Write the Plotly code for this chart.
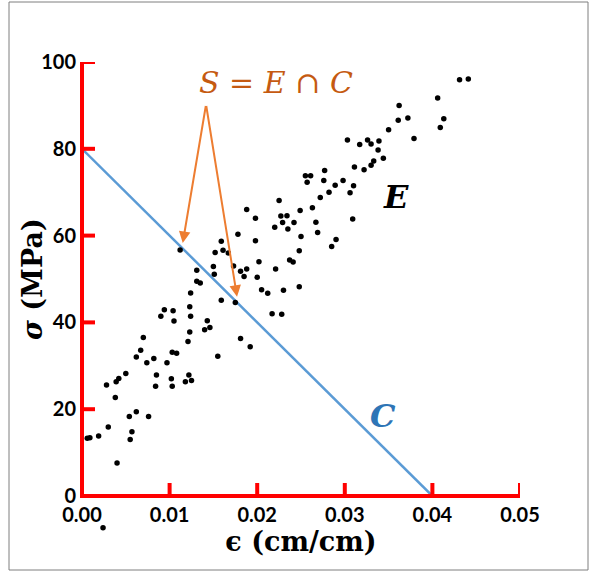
import plotly.graph_objects as go

# Scatter data E: strain (cm/cm) and stress (MPa)
eps = [0.0006, 0.0009, 0.0019, 0.0028, 0.0030, 0.0038, 0.0039, 0.0042, 0.0040, 0.0050,
       0.0054, 0.0055, 0.0057, 0.0062, 0.0062, 0.0067, 0.0070, 0.0074, 0.0076, 0.0082,
       0.0085, 0.0084, 0.0090, 0.0094, 0.0097, 0.0102, 0.0103, 0.0103, 0.0104, 0.0105,
       0.0108, 0.0112, 0.0118, 0.0121, 0.0122, 0.0123, 0.0123, 0.0124, 0.0125, 0.0124,
       0.0131, 0.0131, 0.0135, 0.0140, 0.0143, 0.0146, 0.0150, 0.0151, 0.0152, 0.0155,
       0.0159, 0.0159, 0.0161, 0.0167, 0.0173, 0.0175, 0.0178, 0.0181, 0.0181, 0.0185,
       0.0188, 0.0188, 0.0192, 0.0198, 0.0198, 0.0200, 0.0202, 0.0205, 0.0212, 0.0217,
       0.0220, 0.0221, 0.0225, 0.0227, 0.0228, 0.0229, 0.0230, 0.0234, 0.0235, 0.0237,
       0.0241, 0.0242, 0.0248, 0.0248, 0.0249, 0.0250, 0.0255, 0.0257, 0.0261, 0.0263,
       0.0267, 0.0269, 0.0272, 0.0276, 0.0277, 0.0282, 0.0285, 0.0289, 0.0290, 0.0298,
       0.0303, 0.0306, 0.0309, 0.0310, 0.0311, 0.0317, 0.0322, 0.0326, 0.0330, 0.0330,
       0.0333, 0.0338, 0.0339, 0.0344, 0.0350, 0.0361, 0.0362, 0.0372, 0.0379, 0.0406,
       0.0409, 0.0413, 0.0431, 0.0441]
sigma = [13.3, 13.4, 13.8, 25.6, 15.9, 22.7, 26.3, 27.1, 7.6, 28.2,
         18.3, 13.0, 14.8, 19.4, 32.0, 33.6, 36.5, 30.7, 18.3, 31.7,
         27.9, 25.3, 41.4, 42.9, 30.7, 27.0, 25.3, 33.1, 42.7, 40.3,
         32.9, 56.7, 26.3, 35.6, 27.9, 37.8, 43.6, 41.4, 26.6, 46.8,
         52.0, 49.5, 49.1, 38.3, 40.4, 38.8, 52.9, 51.1, 56.1, 32.2,
         45.1, 58.7, 56.6, 56.0, 53.0, 44.6, 60.3, 36.3, 51.8, 50.6,
         66.0, 52.3, 34.4, 64.0, 58.8, 50.4, 54.0, 47.5, 46.7, 42.0,
         61.9, 52.3, 68.1, 64.5, 41.9, 63.0, 47.4, 64.6, 61.5, 54.4,
         53.9, 63.0, 48.2, 56.5, 65.8, 59.8, 73.8, 72.3, 73.8, 66.4,
         63.1, 60.7, 68.8, 72.7, 75.0, 70.0, 57.5, 71.6, 59.1, 72.7,
         82.0, 69.9, 63.8, 71.5, 75.8, 81.0, 75.2, 82.0, 76.2, 81.1,
         77.2, 79.7, 81.8, 77.8, 84.4, 86.6, 90.0, 87.1, 82.4, 91.7,
         84.9, 86.9, 95.9, 96.1]

# One data point lies below the axis (negative stress)
outlier_eps = [0.0024]
outlier_sigma = [-7.3]

# Constraint line C
line_eps = [0.0, 0.04]
line_sigma = [80, 0]

x_ticks = [0.00, 0.01, 0.02, 0.03, 0.04, 0.05]
x_tick_labels = ["0.00", "0.01", "0.02", "0.03", "0.04", "0.05"]
y_ticks = [0, 20, 40, 60, 80, 100]

# Arrow geometry (apex and tips) in data units
arrow_apex = (0.01416, 90.2)
arrow_tips = [(0.0115, 58.3), (0.0177, 45.9)]

# layout geometry (pixels)
W, H = 589, 572
ML, MR, MT, MB = 82, 69, 62, 32
pw = W - ML - MR
plot_h = H - MT - MB            # 478
main_h = 434                    # height of the 0..100 axis
dom_bottom = (plot_h - main_h) / plot_h
px_per_unit = main_h / 100.0
y2_bottom = -(plot_h - main_h) / px_per_unit
TICK_LEN = 13
AX_W = 4
AX_COLOR = "red"   # diagnostic colour

fig = go.Figure()
fig.add_trace(go.Scatter(x=line_eps, y=line_sigma, mode="lines",
                         line=dict(color="#5B9BD5", width=2.5),
                         hoverinfo="skip", showlegend=False))
fig.add_trace(go.Scatter(x=eps, y=sigma, mode="markers",
                         marker=dict(color="black", size=5.5), showlegend=False))
fig.add_trace(go.Scatter(x=outlier_eps, y=outlier_sigma, mode="markers", yaxis="y2",
                         marker=dict(color="black", size=5.5), showlegend=False))

for tx, ty in arrow_tips:
    fig.add_annotation(x=tx, y=ty, ax=arrow_apex[0], ay=arrow_apex[1],
                       xref="x", yref="y", axref="x", ayref="y",
                       text="", showarrow=True, arrowhead=2, arrowsize=1.15,
                       arrowwidth=2, arrowcolor="#ED7D31", standoff=0, startstandoff=0)

fig.add_annotation(x=0.0222, y=95.2, xref="x", yref="y",
                   text="<i>S</i> = <i>E</i> ∩ <i>C</i>", showarrow=False,
                   font=dict(family="DejaVu Serif", size=30, color="#C55A11"))
fig.add_annotation(x=0.0359, y=68.8, xref="x", yref="y",
                   text="<b><i>E</i></b>", showarrow=False,
                   font=dict(family="DejaVu Serif", size=32, color="black"))
fig.add_annotation(x=0.0344, y=18.5, xref="x", yref="y",
                   text="<b><i>C</i></b>", showarrow=False,
                   font=dict(family="DejaVu Serif", size=32, color="#2E75B6"))

# y axis title
fig.add_annotation(x=(32 - ML) / pw, y=0.5, xref="paper", yref="y domain",
                   xanchor="center", yanchor="middle",
                   text="<b><i>σ</i> (MPa)</b>", showarrow=False, textangle=-90,
                   font=dict(family="DejaVu Serif", size=27, color="black"))

# axis lines drawn as shapes on the axes' domains
fig.add_shape(type="line", xref="x domain", yref="y domain",
              x0=0, x1=0, y0=-(AX_W / 2) / main_h, y1=1,
              line=dict(color=AX_COLOR, width=AX_W))
fig.add_shape(type="line", xref="x domain", yref="y domain",
              x0=0, x1=1, y0=0, y1=0,
              line=dict(color=AX_COLOR, width=AX_W))
for t in x_ticks:
    fig.add_shape(type="line", xref="x", yref="y domain",
                  x0=t, x1=t, y0=0, y1=TICK_LEN / main_h,
                  line=dict(color=AX_COLOR, width=AX_W))
for t in y_ticks:
    fig.add_shape(type="line", xref="x domain", yref="y",
                  x0=0, x1=TICK_LEN / pw, y0=t, y1=t,
                  line=dict(color=AX_COLOR, width=AX_W))

# outer frame
fig.add_shape(type="rect", xref="paper", yref="paper",
              x0=(9 - ML) / pw, x1=(588 - ML) / pw,
              y0=-(570 - (H - MB)) / plot_h, y1=1 + (MT - 2) / plot_h,
              line=dict(color="#7f7f7f", width=1), fillcolor="rgba(0,0,0,0)")

fig.update_layout(
    width=W, height=H,
    margin=dict(l=ML, r=MR, t=MT, b=MB),
    paper_bgcolor="white", plot_bgcolor="rgba(0,0,0,0)",
    xaxis=dict(range=[0, 0.05], tickvals=x_ticks, ticktext=x_tick_labels,
               anchor="y",
               showgrid=False, zeroline=False, showline=False, ticks="",
               ticklabelstandoff=5,
               tickfont=dict(family="Lato", size=20, color="black", weight="bold"),
               title=dict(text="ϵ (cm/cm)", standoff=4,
                          font=dict(family="DejaVu Serif", size=27, color="black", weight="bold"))),
    yaxis=dict(range=[0, 100], tickvals=y_ticks, domain=[dom_bottom, 1],
               showgrid=False, zeroline=False, showline=False, ticks="",
               ticklabelstandoff=5,
               tickfont=dict(family="Lato", size=20, color="black", weight="bold")),
    yaxis2=dict(range=[y2_bottom, 100], domain=[0, 1], anchor="x", visible=False,
                showgrid=False, zeroline=False),
)

fig.write_html("out.html")
